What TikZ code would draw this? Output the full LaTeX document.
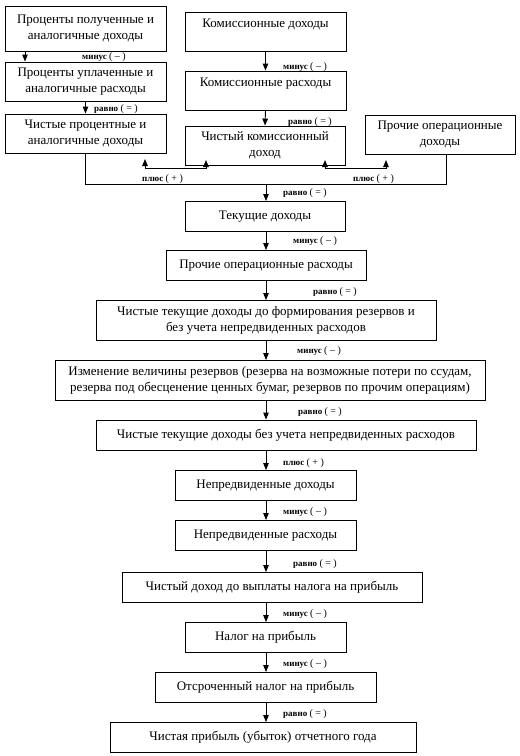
\documentclass[tikz,border=0pt]{standalone}
\usepackage{fontspec}
\setmainfont{Liberation Serif}
\usetikzlibrary{arrows.meta}
\begin{document}
\begin{tikzpicture}[x=1pt,y=-1pt,
  box/.style={draw,line width=0.9pt,inner sep=0pt,align=center,font=\fontsize{13}{16}\selectfont},
  arr/.style={line width=0.9pt,-{Triangle[length=7pt,width=5.5pt]}},
  arrboth/.style={line width=0.9pt,{Triangle[length=7pt,width=5.5pt]}-{Triangle[length=7pt,width=5.5pt]}},
  conn/.style={line width=0.9pt},
  lbl/.style={anchor=west,inner sep=0pt,font=\fontsize{9}{10}\selectfont}]
\useasboundingbox (0,0) rectangle (520,756);
% top left column
\node[box,minimum width=161,minimum height=45] (b1) at (85.5,28.5) {Проценты полученные и\\аналогичные доходы};
\node[box,minimum width=161,minimum height=39] (b2) at (85.5,81.5) {Проценты уплаченные и\\аналогичные расходы};
\node[box,minimum width=161,minimum height=39] (b3) at (85.5,133.5) {Чистые процентные и\\аналогичные доходы};
% top middle column
\node[box,minimum width=161,minimum height=39] (k1) at (265.5,31.5) {Комиссионные доходы\\~};
\node[box,minimum width=161,minimum height=39] (k2) at (265.5,90.5) {Комиссионные расходы\\~};
\node[box,minimum width=160,minimum height=39] (k3) at (265,145.5) {Чистый комиссионный\\доход};
% top right
\node[box,minimum width=150,minimum height=39] (pd) at (440,134.5) {Прочие операционные\\доходы};
% main chain
\node[box,minimum width=160,minimum height=30] (t1) at (265,216.5) {Текущие доходы};
\node[box,minimum width=200,minimum height=30] (t2) at (266,265.5) {Прочие операционные расходы};
\node[box,minimum width=340,minimum height=40] (t3) at (266,320.5) {Чистые текущие доходы до формирования резервов и\\без учета непредвиденных расходов};
\node[box,minimum width=430,minimum height=40] (t4) at (270,380.5) {Изменение величины резервов (резерва на возможные потери по ссудам,\\резерва под обесценение ценных бумаг, резервов по прочим операциям)};
\node[box,minimum width=380,minimum height=30] (t5) at (286,435) {Чистые текущие доходы без учета непредвиденных расходов};
\node[box,minimum width=181,minimum height=30] (t6) at (265.5,485.5) {Непредвиденные доходы};
\node[box,minimum width=181,minimum height=30] (t7) at (265.5,535.5) {Непредвиденные расходы};
\node[box,minimum width=300,minimum height=30] (t8) at (272,587.5) {Чистый доход до выплаты налога на прибыль};
\node[box,minimum width=161,minimum height=30] (t9) at (265.5,637.5) {Налог на прибыль};
\node[box,minimum width=221,minimum height=30] (t10) at (265.5,687.5) {Отсроченный налог на прибыль};
\node[box,minimum width=306,minimum height=30] (t11) at (263,737.5) {Чистая прибыль (убыток) отчетного года};
% helper coordinates
\coordinate (ax1) at (25,0);
\coordinate (ax) at (266,0);
\coordinate (busR) at (446,184);
\coordinate (la) at (145,159);
\coordinate (lb) at (145,168);
\coordinate (lc) at (206,168);
\coordinate (ld) at (206,160);
\coordinate (ra) at (325,160);
\coordinate (rb) at (325,168);
\coordinate (rc) at (386,168);
\coordinate (rd) at (386,160);
% connectors
\draw[arr] (b1.south -| ax1) -- (b2.north -| ax1);
\draw[arr] (b2.south) -- (b3.north);
\draw[arr] (k1.south) -- (k2.north);
\draw[arr] (k2.south) -- (k3.north);
\draw[conn] (b3.south) |- (busR) -- (busR |- pd.south);
\draw[arrboth] (la) -- (lb) -- (lc) -- (ld);
\draw[arrboth] (ra) -- (rb) -- (rc) -- (rd);
\draw[arr] (busR -| ax) -- (t1.north -| ax);
\draw[arr] (t1.south -| ax) -- (t2.north -| ax);
\draw[arr] (t2.south -| ax) -- (t3.north -| ax);
\draw[arr] (t3.south -| ax) -- (t4.north -| ax);
\draw[arr] (t4.south -| ax) -- (t5.north -| ax);
\draw[arr] (t5.south -| ax) -- (t6.north -| ax);
\draw[arr] (t6.south -| ax) -- (t7.north -| ax);
\draw[arr] (t7.south -| ax) -- (t8.north -| ax);
\draw[arr] (t8.south -| ax) -- (t9.north -| ax);
\draw[arr] (t9.south -| ax) -- (t10.north -| ax);
\draw[arr] (t10.south -| ax) -- (t11.north -| ax);
% labels
\newcommand{\prn}[1]{{\fontsize{10}{10}\selectfont(~#1~)}}
\newcommand{\mlbl}{\textbf{минус} \prn{–}}
\newcommand{\rlbl}{\textbf{равно} \prn{=}}
\newcommand{\plbl}{\textbf{плюс} \prn{+}}
\node[lbl] (l1) at (82,57) {\mlbl};
\node[lbl] (l2) at (94,109) {\rlbl};
\node[lbl] (l3) at (283,67) {\mlbl};
\node[lbl] (l4) at (288,122) {\rlbl};
\node[lbl] (l5) at (142,179) {\plbl};
\node[lbl] (l6) at (353,179) {\plbl};
\node[lbl] (l7) at (283,193) {\rlbl};
\node[lbl] (l8) at (293,241) {\mlbl};
\node[lbl] (l9) at (313,292) {\rlbl};
\node[lbl] (l10) at (297,351) {\mlbl};
\node[lbl] (l11) at (298,412) {\rlbl};
\node[lbl] (l12) at (283,463) {\plbl};
\node[lbl] (l13) at (283,512) {\mlbl};
\node[lbl] (l14) at (293,564) {\rlbl};
\node[lbl] (l15) at (283,614) {\mlbl};
\node[lbl] (l16) at (283,664) {\mlbl};
\node[lbl] (l17) at (283,714) {\rlbl};
\end{tikzpicture}
\end{document}
